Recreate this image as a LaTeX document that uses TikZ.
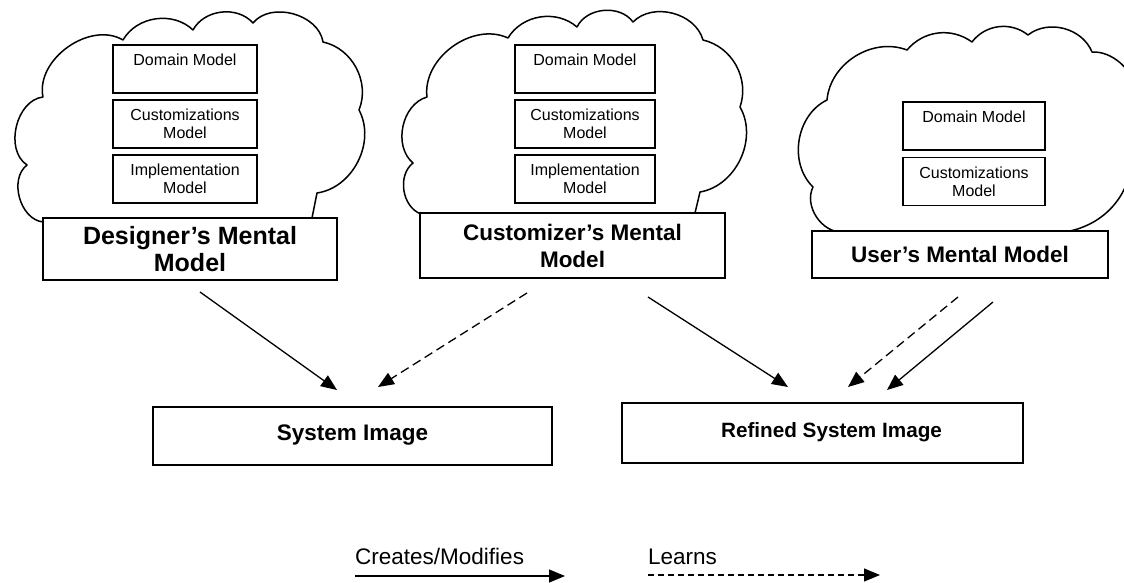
\documentclass[tikz,border=0pt]{standalone}
\usepackage{fontspec}
\setmainfont{Liberation Sans}
\usetikzlibrary{arrows.meta}
\begin{document}
\begin{tikzpicture}[x=1pt,y=-1pt,
  cloudline/.style={line width=1.5pt, line join=round, line cap=round},
  inbox/.style={draw, line width=1.2pt, fill=white, minimum height=48pt, inner sep=0pt, align=center, font=\fontsize{16}{18}\selectfont},
  labbox/.style={draw, line width=1.2pt, fill=white, inner sep=0pt, align=center, font=\fontsize{22.5}{27}\selectfont\bfseries},
  creates/.style={line width=1.3pt, -{Triangle[length=16pt,width=13pt]}},
  learns/.style={line width=1.3pt, dash pattern=on 9pt off 5pt, -{Triangle[length=16pt,width=13pt]}},
  legendtext/.style={anchor=base west, inner sep=0pt, font=\fontsize{22.5}{27}\selectfont},
]
\useasboundingbox (0,0) rectangle (1124,583);

% ---- cloud 1
\draw[cloudline] (43,222) to[bend left=68] (27,165) to[bend left=70] (43,97)
  to[bend left=66] (123,40) to[bend left=52] (193,30) to[bend left=55] (253,23)
  to[bend left=66] (323,42) to[bend left=50] (359,110) to[bend left=55] (317,193) -- (312,218);
% ---- cloud 2
\draw[cloudline] (421,214) to[bend left=61] (413,163) to[bend left=62] (427,97)
  to[bend left=61] (508,38) to[bend left=50] (577,27) to[bend left=59] (633,22)
  to[bend left=60] (703,40) to[bend left=48] (740,107) to[bend left=55] (700,192) -- (695,213);
% ---- cloud 3
\draw[cloudline] (843,232) to[bend left=60] (813,187) to[bend left=55] (827,100)
  to[bend left=53] (907,50) to[bend left=43] (972,42) to[bend left=46] (1028,35)
  to[bend left=53] (1092,52) to[bend left=70] (1132,150) to[bend left=40] (1070,231);

% ---- inner boxes
\node[inbox, minimum width=144pt] (d1) at (185,69) {Domain Model\\~};
\node[inbox, minimum width=144pt] (c1) at (185,124) {Customizations\\Model};
\node[inbox, minimum width=144pt] (i1) at (185,179) {Implementation\\Model};
\node[inbox, minimum width=140pt] (d2) at (585,69) {Domain Model\\~};
\node[inbox, minimum width=140pt] (c2) at (585,124) {Customizations\\Model};
\node[inbox, minimum width=140pt] (i2) at (585,179) {Implementation\\Model};
\node[inbox, minimum width=142pt] (d3) at (974,126) {Domain Model\\~};
\node[inbox, minimum width=142pt] (c3) at (974,181.5) {Customizations\\Model};

% ---- label boxes
\node[labbox, minimum width=294pt, minimum height=62pt, font=\fontsize{25}{27}\selectfont\bfseries] (des) at (190,249) {Designer’s Mental\\Model};
\node[labbox, minimum width=305pt, minimum height=65pt] (cus) at (572.5,245.5) {Customizer’s Mental\\Model};
\node[labbox, minimum width=296pt, minimum height=47pt] (usr) at (960,254.5) {User’s Mental Model};
\node[labbox, minimum width=399pt, minimum height=58pt] (sys) at (352.5,436) {\raisebox{6pt}{System Image}};
\node[labbox, minimum width=401pt, minimum height=60pt, font=\fontsize{20.7}{25}\selectfont\bfseries] (ref) at (822.5,433) {\hspace*{18pt}\raisebox{6pt}{Refined System Image}};

% ---- connectors
\coordinate (a1s) at (200,292);  \coordinate (a1e) at (337,390);
\coordinate (a2s) at (527,293);  \coordinate (a2e) at (378,387);
\coordinate (a3s) at (648,297);  \coordinate (a3e) at (788,387);
\coordinate (a4s) at (958,297);  \coordinate (a4e) at (848,387);
\coordinate (a5s) at (993,302);  \coordinate (a5e) at (887,390);
\draw[creates] (a1s) -- (a1e);
\draw[learns]  (a2s) -- (a2e);
\draw[creates] (a3s) -- (a3e);
\draw[learns]  (a4s) -- (a4e);
\draw[creates] (a5s) -- (a5e);

% ---- legend
\node[legendtext] (lc) at (355,564) {Creates/Modifies};
\node[legendtext] (ll) at (648,564) {Learns};
\coordinate (lcs) at (355,576); \coordinate (lce) at (565,576);
\coordinate (lls) at (648,575); \coordinate (lle) at (880,575);
\draw[creates] (lcs) -- (lce);
\draw[learns, dash pattern=on 6pt off 4pt] (lls) -- (lle);
\end{tikzpicture}
\end{document}
